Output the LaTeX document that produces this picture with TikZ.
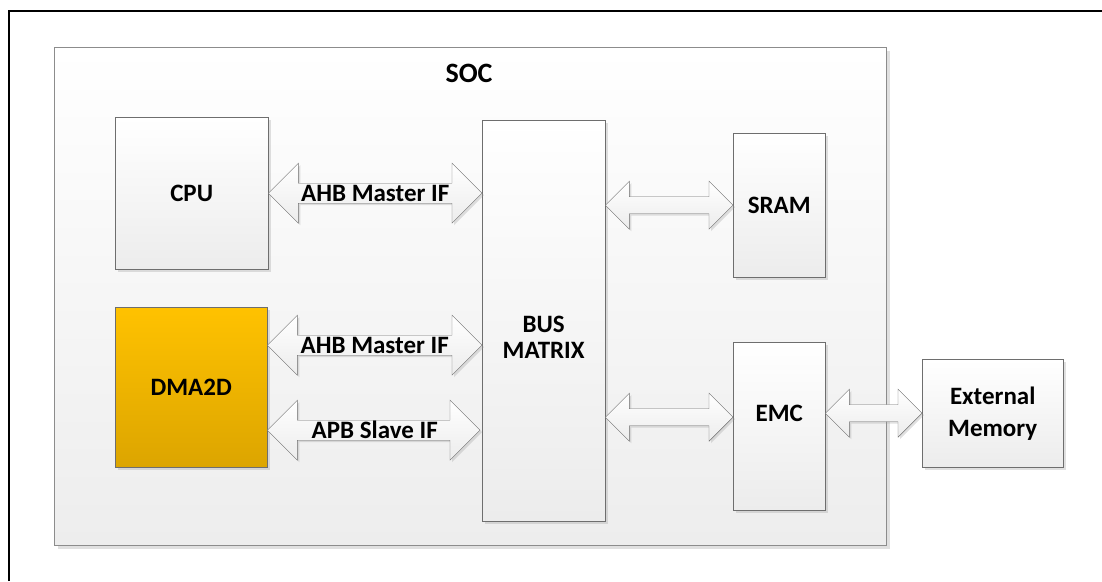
\documentclass[tikz,border=0pt]{standalone}
\usepackage{fontspec}
\setmainfont{Carlito}
\usetikzlibrary{positioning, calc, shadows}

\definecolor{linegray}{HTML}{6E6E6E}
\definecolor{socline}{HTML}{8C8C8C}
\definecolor{boxgray}{HTML}{ECECEC}
\definecolor{socgray}{HTML}{EDEDED}
\definecolor{dmatop}{HTML}{FFC200}
\definecolor{dmabot}{HTML}{DCA500}

\tikzset{
  fatarrow/.style n args={3}{
    draw=linegray, top color=white, bottom color=boxgray,
    drop shadow={shadow xshift=2pt, shadow yshift=-2pt, opacity=0.3, fill=black!40},
    to path={let \p1=(\tikztostart), \p2=(\tikztotarget) in
      (\x1,\y1) -- (\x1+#3,\y1+#1) -- (\x1+#3,\y1+#2) -- (\x2-#3,\y1+#2)
      -- (\x2-#3,\y1+#1) -- (\x2,\y1) -- (\x2-#3,\y1-#1) -- (\x2-#3,\y1-#2)
      -- (\x1+#3,\y1-#2) -- (\x1+#3,\y1-#1) -- cycle}
  },
  bigarrow/.style={fatarrow={30pt}{10pt}{30pt}},
  smallarrow/.style={fatarrow={24pt}{8.5pt}{24pt}}
}

\begin{document}
\begin{tikzpicture}[
    x=1pt, y=-1pt,
    block/.style={draw=linegray, anchor=north west, top color=white, bottom color=boxgray,
      drop shadow={shadow xshift=3pt, shadow yshift=-3pt, opacity=0.3, fill=black!40},
      align=center, inner sep=0pt, font=\fontsize{25}{32}\selectfont\bfseries},
    arrow_text/.style={inner sep=0pt, font=\fontsize{25}{30}\selectfont\bfseries}
  ]
    \useasboundingbox (0,0) rectangle (1102,581);

    % outer frame
    \draw[black, line width=1.5pt] (9,581) -- (9,11) -- (1102,11);

    % SOC
    \node[block, draw=socline, line width=1.3pt, bottom color=socgray,
      minimum width=832pt, minimum height=498pt] (soc) at (54,47) {};
    \node[font=\fontsize{28}{32}\selectfont\bfseries] (soc_label) at (469,73) {SOC};

    % blocks
    \node[block, minimum width=153pt, minimum height=152pt] (cpu) at (115,117) {CPU};
    \node[block, top color=dmatop, bottom color=dmabot,
      minimum width=152pt, minimum height=160pt] (dma) at (115,307) {DMA2D};
    \node[block, minimum width=123pt, minimum height=401pt,
      label={[align=center, yshift=-17pt, font=\fontsize{25}{26}\selectfont\bfseries]center:BUS\\MATRIX}] (bus) at (482,120) {};
    \node[block, minimum width=92pt, minimum height=144pt] (sram) at (733,133) {SRAM};
    \node[block, minimum width=92pt, minimum height=168pt,
      label={[yshift=13pt, font=\fontsize{25}{30}\selectfont\bfseries]center:EMC}] (emc) at (733,342) {};
    \node[block, minimum width=141pt, minimum height=108pt] (ext) at (922,359) {External\\Memory};

    \coordinate (dma_ahb) at ([yshift=42pt]dma.east);
    \coordinate (dma_apb) at ([yshift=-43pt]dma.east);
    \coordinate (emc_in) at ([yshift=9pt]emc.west);

    % buses
    \draw[bigarrow] (cpu.east) to (bus.west |- cpu.east);
    \draw[bigarrow] (dma_ahb) to (bus.west |- dma_ahb);
    \draw[bigarrow] (dma_apb) to ([xshift=-2pt]bus.west |- dma_apb);
    \draw[smallarrow] (bus.east |- sram.west) to (sram.west);
    \draw[smallarrow] (bus.east |- emc_in) to (emc_in);
    \draw[smallarrow] (emc.east |- ext.west) to (ext.west);

    \node[arrow_text] (cpu_if) at ($(cpu.east)!.5!(bus.west |- cpu.east)$) {AHB Master IF};
    \node[arrow_text] (ahb_if) at ($(dma_ahb)!.5!(bus.west |- dma_ahb)$) {AHB Master IF};
    \node[arrow_text] (apb_if) at ($(dma_apb)!.5!(bus.west |- dma_apb)$) {APB Slave IF};
  \end{tikzpicture}
\end{document}
